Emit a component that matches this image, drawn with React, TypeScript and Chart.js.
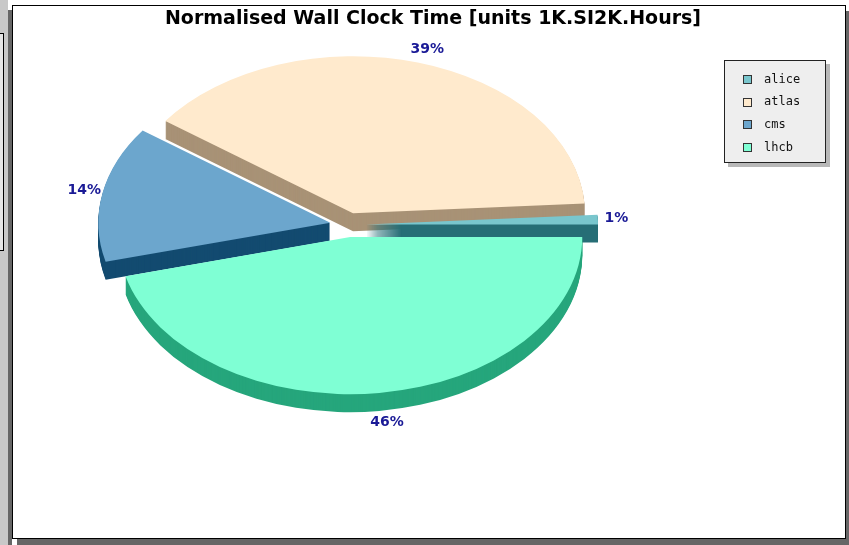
import { useEffect, useRef } from "react";
import { Chart, registerables, ArcElement } from "chart.js";

Chart.register(...registerables);

// ---------------- data ----------------
const TITLE = "Normalised Wall Clock Time [units 1K.SI2K.Hours]";
const categories = ["alice", "atlas", "cms", "lhcb"];
const shares = [1, 39, 14, 46]; // percent of total wall clock time
const topColors = ["#79c6cd", "#ffeacd", "#6ca6cd", "#7fffd4"];
const sideColors = ["#266e76", "#a89276", "#134b70", "#26a67c"];

// ---------------- layout (canvas px) ----------------
const CANVAS_W = 832;
const CANVAS_H = 532;
const PIE_CX = 335;
const PIE_CY = 219;
const RADIUS = 232;
const SQUASH = 0.677;
const DEPTH = 18;
const EXPLODE = 18;
const LABEL_GAP = 1.08;
const LABEL_COLOR = "#1a1a96";

const LEG_X = 711;
const LEG_Y = 54;
const LEG_W = 102;
const LEG_H = 103;
const LEG_ROW0 = 73;
const LEG_PITCH = 22.7;

const pie3d = {
  id: "pie3d",
  beforeDatasetsDraw(chart: any) {
    const ctx: CanvasRenderingContext2D = chart.ctx;
    const meta = chart.getDatasetMeta(0);
    const arcs: any[] = meta.data;
    const values: number[] = chart.data.datasets[0].data;
    const total = values.reduce((a, b) => a + b, 0);
    const mid = (a: any) => (a.startAngle + a.endAngle) / 2;
    const order = arcs.map((_, i) => i).sort((i, j) => Math.sin(mid(arcs[i])) - Math.sin(mid(arcs[j])));

    for (const i of order) {
      const arc = arcs[i];
      const m = mid(arc);
      const drawAt = (dz: number, color: string) => {
        ctx.save();
        ctx.translate(PIE_CX, PIE_CY + dz);
        ctx.scale(-1, SQUASH);
        ctx.translate(Math.cos(m) * EXPLODE - arc.x, Math.sin(m) * EXPLODE - arc.y);
        const proxy = Object.create(arc);
        proxy.options = { ...arc.options, backgroundColor: color, borderWidth: 0, offset: 0 };
        (ArcElement.prototype as any).draw.call(proxy, ctx);
        ctx.restore();
      };
      for (let dz = DEPTH; dz >= 1; dz--) drawAt(dz, sideColors[i]);
      drawAt(0, topColors[i]);
    }

    ctx.save();
    ctx.font = "bold 14px 'DejaVu Sans'";
    ctx.fillStyle = LABEL_COLOR;
    ctx.textAlign = "center";
    ctx.textBaseline = "middle";
    arcs.forEach((arc, i) => {
      const m = mid(arc);
      const dx = -Math.cos(m);
      const dy = Math.sin(m);
      const ox = PIE_CX + dx * EXPLODE;
      const oy = PIE_CY + dy * EXPLODE * SQUASH;
      const lx = ox + dx * RADIUS * LABEL_GAP + 6 * (1 - Math.abs(dx));
      const ly = oy + dy * RADIUS * SQUASH * LABEL_GAP + (dy > 0 ? DEPTH * dy : 0) - 1;
      ctx.fillText(Math.round((values[i] / total) * 100) + "%", lx, ly);
    });
    ctx.restore();
    return false;
  },
  afterDraw(chart: any) {
    const ctx: CanvasRenderingContext2D = chart.ctx;
    const labels: string[] = chart.data.labels;
    const colors: string[] = chart.data.datasets[0].backgroundColor;
    ctx.save();
    ctx.fillStyle = "#b8b8b8";
    ctx.fillRect(LEG_X + 4, LEG_Y + 4, LEG_W, LEG_H);
    ctx.fillStyle = "#eeeeee";
    ctx.fillRect(LEG_X, LEG_Y, LEG_W, LEG_H);
    ctx.strokeStyle = "#222";
    ctx.lineWidth = 1;
    ctx.strokeRect(LEG_X + 0.5, LEG_Y + 0.5, LEG_W - 1, LEG_H - 1);
    ctx.font = "12px 'DejaVu Sans Mono'";
    ctx.textBaseline = "middle";
    ctx.textAlign = "left";
    labels.forEach((lab, i) => {
      const cy = LEG_ROW0 + i * LEG_PITCH;
      ctx.fillStyle = colors[i];
      ctx.fillRect(LEG_X + 19, Math.round(cy - 4), 8, 8);
      ctx.strokeStyle = "#333";
      ctx.strokeRect(LEG_X + 19.5, Math.round(cy - 4) + 0.5, 8, 8);
      ctx.fillStyle = "#111";
      ctx.fillText(lab, LEG_X + 40, cy + 0.5);
    });
    ctx.restore();
  },
};

export default function App() {
  const ref = useRef<HTMLCanvasElement | null>(null);
  useEffect(() => {
    if (!ref.current) return;
    const chart = new Chart(ref.current, {
      type: "pie",
      data: {
        labels: categories,
        datasets: [
          {
            data: shares,
            backgroundColor: topColors,
            borderWidth: 0,
          },
        ],
      },
      options: {
        animation: false,
        responsive: false,
        devicePixelRatio: 1,
        rotation: 270,
        radius: RADIUS,
        layout: { padding: { left: 8 } },
        events: [],
        plugins: {
          legend: { display: false },
          tooltip: { enabled: false },
          title: {
            display: true,
            text: TITLE,
            color: "#000",
            font: { family: "'DejaVu Sans'", size: 19, weight: "bold" },
            padding: { top: 2, bottom: 4 },
          },
        },
      } as any,
      plugins: [pie3d],
    });
    return () => chart.destroy();
  }, []);

  return (
    <div style={{ position: "fixed", left: 0, top: 0, width: 849, height: 545, overflow: "hidden", background: "#fff" }}>
      <div style={{ position: "absolute", left: 0, top: 0, width: 8, height: 545, background: "#c8c8c8" }} />
      <div
        style={{
          position: "absolute",
          left: -1,
          top: 33,
          width: 5,
          height: 218,
          boxSizing: "border-box",
          border: "1px solid #000",
          background: "#e6e6e6",
        }}
      />
      <div style={{ position: "absolute", left: 8, top: 10, width: 4, height: 535, background: "#666" }} />
      <div style={{ position: "absolute", left: 17, top: 11, width: 834, height: 534, background: "#666" }} />
      <div
        style={{
          position: "absolute",
          left: 12,
          top: 5,
          width: 834,
          height: 534,
          boxSizing: "border-box",
          border: "1px solid #000",
          background: "#fff",
        }}
      >
        <canvas ref={ref} width={CANVAS_W} height={CANVAS_H} style={{ display: "block", width: CANVAS_W, height: CANVAS_H }} />
      </div>
    </div>
  );
}
